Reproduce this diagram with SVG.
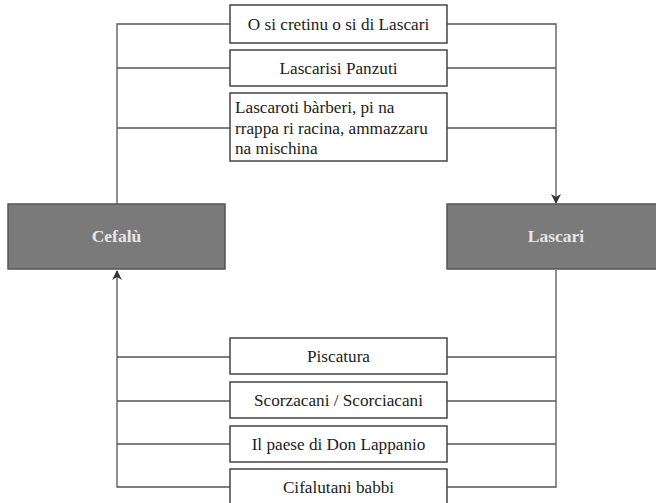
<svg xmlns="http://www.w3.org/2000/svg" width="656" height="503" viewBox="0 0 656 503">
<defs>
<marker id="arr" markerWidth="10" markerHeight="10" refX="9" refY="5" orient="auto" markerUnits="userSpaceOnUse">
<path d="M0,0 L10,5 L0,10 L3,5 Z" fill="#333"/>
</marker>
<style>
.box{fill:#fff;stroke:#444;stroke-width:1.5}
.city{fill:#7a7a7a;stroke:#555;stroke-width:1.5}
.lbl{font-family:"Liberation Serif","Times New Roman",serif;font-size:17.2px;fill:#222}
.c{text-anchor:middle}
.cl{font-family:"Liberation Serif","Times New Roman",serif;font-size:17.5px;font-weight:bold;fill:#e6e6e6;text-anchor:middle}
.ln{fill:none;stroke:#555;stroke-width:1.3}
</style>
</defs>
<rect width="656" height="503" fill="#fff"/>
<g id="connectors">
<path class="ln" d="M117,204 V24 H230"/>
<path class="ln" d="M447,24 H556 V203" marker-end="url(#arr)"/>
<path class="ln" d="M117,68 H230 M447,68 H556"/>
<path class="ln" d="M117,128 H230 M447,128 H556"/>
<path class="ln" d="M556,270 V487 H447"/>
<path class="ln" d="M230,487 H117 V271" marker-end="url(#arr)"/>
<path class="ln" d="M117,357 H230 M447,357 H556"/>
<path class="ln" d="M117,401 H230 M447,401 H556"/>
<path class="ln" d="M117,444 H230 M447,444 H556"/>
</g>
<g id="cefalu"><rect class="city" x="8" y="204" width="217" height="65"/><text class="cl" x="116.5" y="242">Cefalù</text></g>
<g id="lascari"><rect class="city" x="447" y="204" width="218" height="65"/><text class="cl" x="556" y="242">Lascari</text></g>
<g id="n1"><rect class="box" x="230" y="5" width="217" height="38"/><text class="lbl c" x="338.5" y="30">O si cretinu o si di Lascari</text></g>
<g id="n2"><rect class="box" x="230" y="50" width="217" height="36"/><text class="lbl c" x="338.5" y="74">Lascarisi Panzuti</text></g>
<g id="n3"><rect class="box" x="230" y="93" width="217" height="68"/>
<text class="lbl" x="235" y="113">Lascaroti bàrberi, pi na</text>
<text class="lbl" x="235" y="134">rrappa ri racina, ammazzaru</text>
<text class="lbl" x="235" y="154">na mischina</text></g>
<g id="n4"><rect class="box" x="230" y="338" width="217" height="36"/><text class="lbl c" x="338.5" y="362">Piscatura</text></g>
<g id="n5"><rect class="box" x="230" y="382" width="217" height="36"/><text class="lbl c" x="338.5" y="406">Scorzacani / Scorciacani</text></g>
<g id="n6"><rect class="box" x="230" y="426" width="217" height="36"/><text class="lbl c" x="338.5" y="450">Il paese di Don Lappanio</text></g>
<g id="n7"><rect class="box" x="230" y="469" width="217" height="40"/><text class="lbl c" x="338.5" y="493">Cifalutani babbi</text></g>
</svg>
